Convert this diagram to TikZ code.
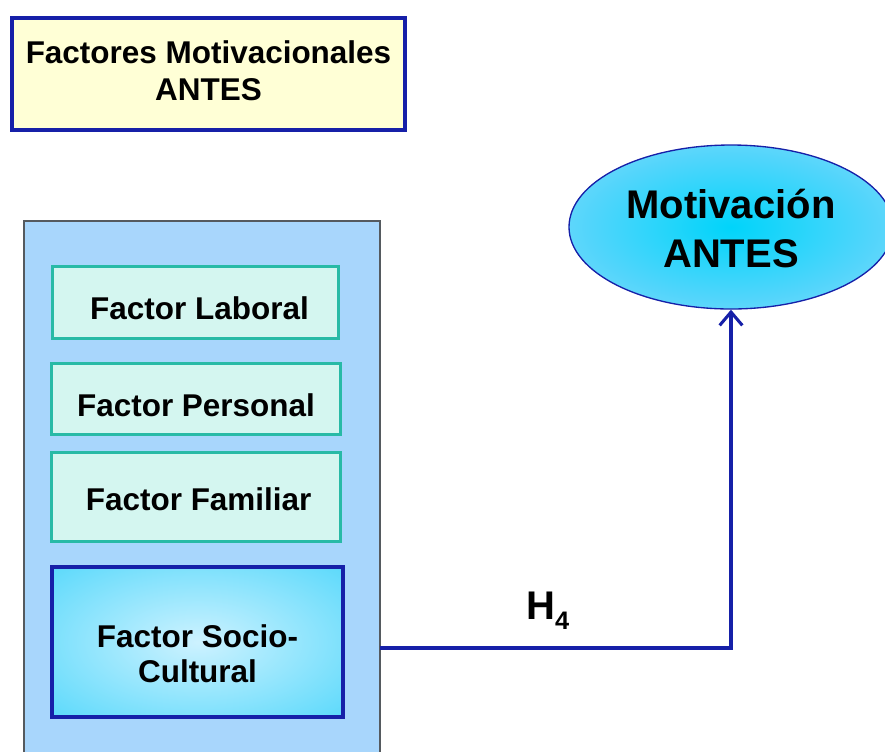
\documentclass[tikz,border=0pt]{standalone}
\usepackage{fontspec}
\setmainfont{Liberation Sans}
\usepackage{tikz}
\usetikzlibrary{shapes.geometric, arrows.meta, positioning}
\definecolor{titlefill}{RGB}{255, 255, 214}
\definecolor{darkblue}{RGB}{22, 32, 168}
\definecolor{panelfill}{RGB}{168, 214, 252}
\definecolor{panelline}{RGB}{85, 90, 95}
\definecolor{factorfill}{RGB}{212, 246, 240}
\definecolor{factorline}{RGB}{40, 186, 166}
\definecolor{sociolight}{RGB}{205, 242, 255}
\definecolor{sociodark}{RGB}{58, 210, 250}
\definecolor{motivcore}{RGB}{0, 212, 250}
\definecolor{motivedge}{RGB}{172, 215, 252}
\pgfdeclareradialshading{sociograd}{\pgfpoint{0bp}{0bp}}{color(0bp)=(sociolight); color(46bp)=(sociodark); color(50bp)=(sociodark)}
\pgfdeclareradialshading{motivgrad}{\pgfpoint{0bp}{0bp}}{color(0bp)=(motivcore); color(46bp)=(motivedge); color(50bp)=(motivedge)}

\begin{document}
\begin{tikzpicture}[x=0.75pt, y=-0.75pt,
    boldtext/.style={font=\fontsize{23.6}{27.75}\selectfont\bfseries},
    factorbox/.style={draw=factorline, line width=2.3pt, fill=factorfill,
      minimum width=217pt, align=center, inner sep=0pt, text depth=0pt, boldtext},
    link/.style={draw=darkblue, line width=2.3pt, -{Straight Barb[length=10pt, width=17pt, line width=2.3pt]}}]

  \useasboundingbox (0, 0) rectangle (885, 751);

  \node[draw=darkblue, line width=3pt, fill=titlefill, minimum width=295pt, minimum height=84pt,
        align=center, inner sep=0pt, text height=39pt, text depth=0pt, boldtext]
    (title) at (208.5, 74) {Factores Motivacionales\\ANTES};

  \node[draw=panelline, line width=1.2pt, fill=panelfill, minimum width=267pt, minimum height=420pt]
    (panel) at (202, 501) {};

  \node[factorbox, minimum width=215pt, minimum height=54pt, text height=24.8pt]
    (laboral) at (195.5, 302.5) {\hspace*{6pt}Factor Laboral};
  \node[factorbox, minimum height=53.5pt, text height=25.5pt]
    (personal) at (196, 399) {Factor Personal};
  \node[factorbox, minimum height=67pt, text height=19.5pt]
    (familiar) at (196, 497) {\hspace*{4pt}Factor Familiar};

  \node[draw=darkblue, line width=3pt, shading=sociograd, minimum width=218pt, minimum height=113pt,
        align=center, inner sep=0pt, text height=60pt, text depth=0pt,
        font=\fontsize{23.6}{26.25}\selectfont\bfseries]
    (socio) at (197.5, 642) {Factor Socio-\\Cultural};

  \node[ellipse, draw=darkblue, line width=1pt, shading=motivgrad, minimum width=243pt, minimum height=123pt,
        align=center, inner sep=0pt, text height=60pt, text depth=0pt,
        font=\fontsize{30}{36.75}\selectfont\bfseries]
    (motiv) at (731, 227) {Motivaci\'on\\ANTES};

  \coordinate (h4start) at (379.5, 648);
  \draw[link] (h4start) -| (motiv.south);

  \node[font=\fontsize{30}{30}\selectfont\bfseries, inner sep=0pt, anchor=base west]
    (hyp) at (526, 619) {H\raisebox{-8pt}{\fontsize{19}{19}\selectfont 4}};

\end{tikzpicture}
\end{document}
